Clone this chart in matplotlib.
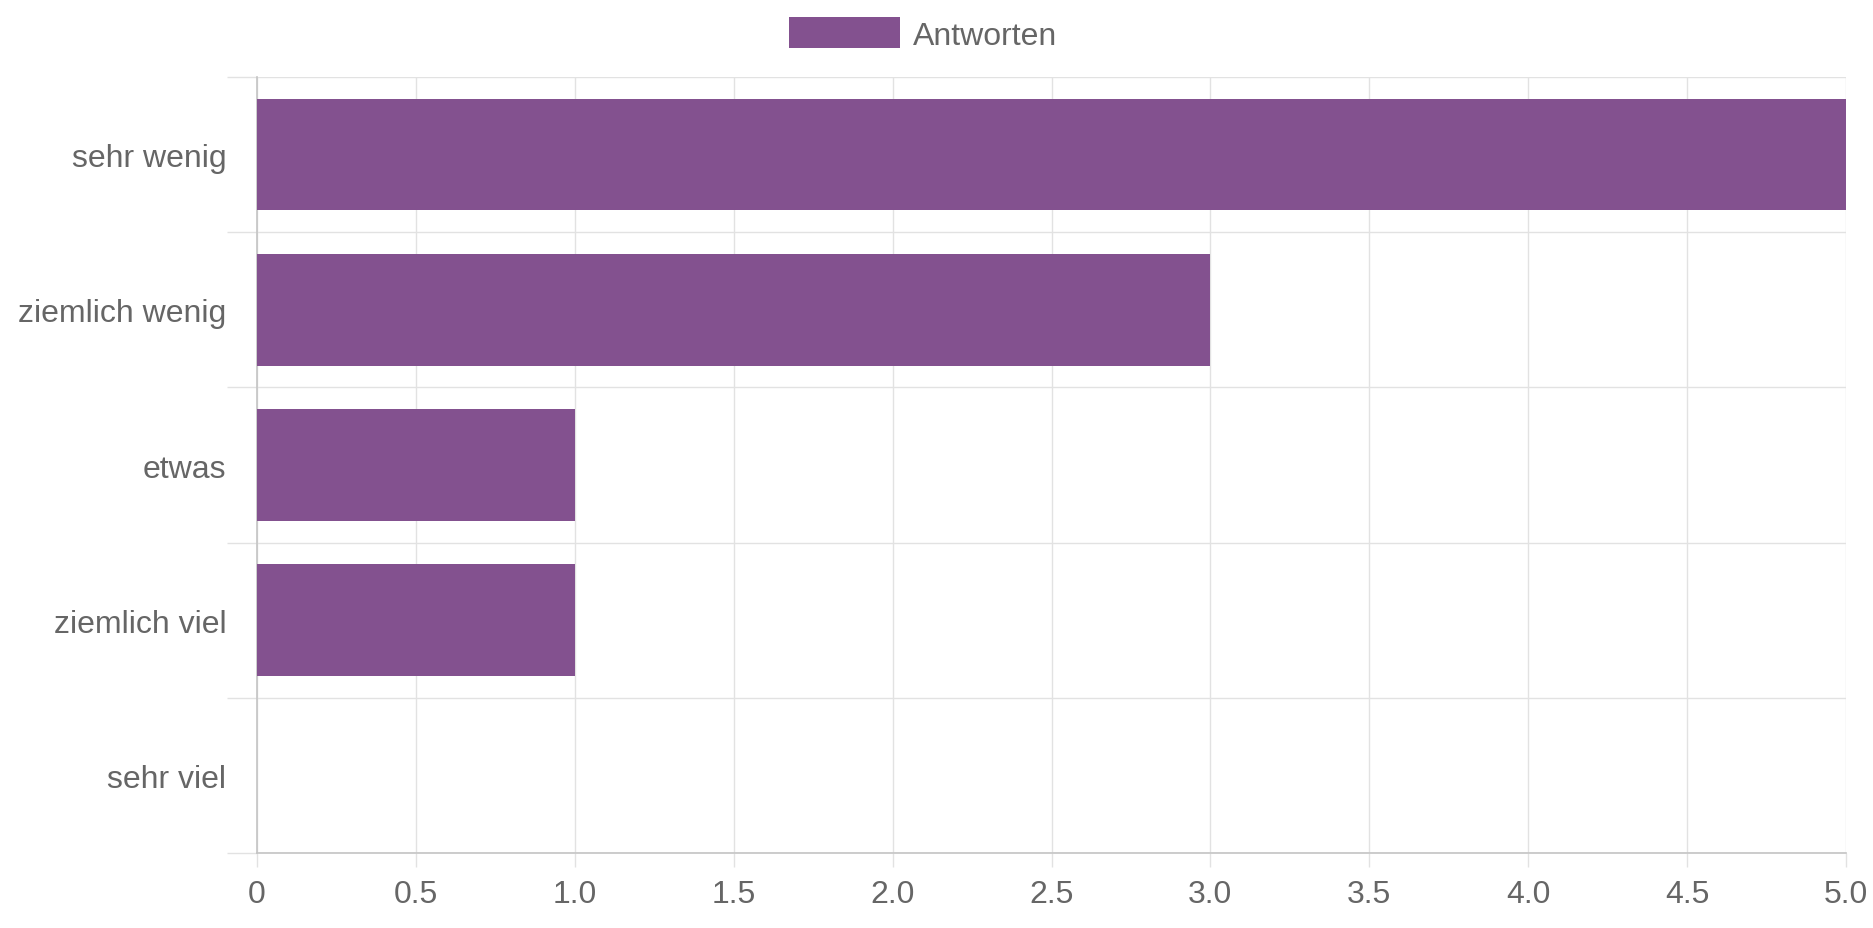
import matplotlib
matplotlib.use("Agg")
import matplotlib.pyplot as plt
from matplotlib.ticker import FixedLocator

# ── data ────────────────────────────────────────────────────────────────
categories = ["sehr wenig", "ziemlich wenig", "etwas", "ziemlich viel", "sehr viel"]
antworten = [5, 3, 1, 1, 0]
x_ticks = [0, 0.5, 1.0, 1.5, 2.0, 2.5, 3.0, 3.5, 4.0, 4.5, 5.0]
x_tick_labels = ["0", "0.5", "1.0", "1.5", "2.0", "2.5", "3.0", "3.5", "4.0", "4.5", "5.0"]
series_label = "Antworten"

BAR_COLOR = "#83518f"
GRID_COLOR = "#e2e2e2"
AXIS_COLOR = "#c4c4c4"
TEXT_COLOR = "#666666"
FONT_SIZE = 23
# ────────────────────────────────────────────────────────────────────────

plt.rcParams["font.family"] = ["Liberation Sans", "DejaVu Sans"]

fig = plt.figure(figsize=(18.73, 9.29), dpi=100)
ax = fig.add_axes([257 / 1873, 1 - 854 / 929, (1846 - 257) / 1873, (854 - 78) / 929])

ypos = list(range(len(categories)))
ax.barh(ypos, antworten, height=0.72, color=BAR_COLOR, label=series_label, zorder=3)

ax.set_xlim(0, 5)
ax.set_ylim(len(categories) - 0.5, -0.5)

# x axis: gridlines on ticks
ax.xaxis.set_major_locator(FixedLocator(x_ticks))
ax.set_xticklabels(x_tick_labels)
ax.tick_params(axis="x", which="major", length=10, width=1, color=GRID_COLOR,
               pad=9, labelsize=FONT_SIZE, labelcolor=TEXT_COLOR)
ax.grid(True, axis="x", which="major", color=GRID_COLOR, linewidth=1, zorder=0)

# y axis: labels at centres, gridlines between categories
ax.set_yticks(ypos)
ax.set_yticklabels(categories)
ax.yaxis.set_minor_locator(FixedLocator([i - 0.5 for i in range(len(categories) + 1)]))
ax.tick_params(axis="y", which="major", length=0, pad=22,
               labelsize=FONT_SIZE, labelcolor=TEXT_COLOR)
ax.tick_params(axis="y", which="minor", length=21.5, width=1, color=GRID_COLOR)
ax.grid(True, axis="y", which="minor", color=GRID_COLOR, linewidth=1, zorder=0)

for side in ("top", "right"):
    ax.spines[side].set_visible(False)
for side in ("left", "bottom"):
    ax.spines[side].set_color(AXIS_COLOR)
    ax.spines[side].set_linewidth(1.2)

fig.legend(loc="center", bbox_to_anchor=(923 / 1873, 1 - 35 / 929),
           frameon=False, fontsize=FONT_SIZE, labelcolor=TEXT_COLOR,
           handlelength=3.5, handleheight=1.12, handletextpad=0.4,
           borderpad=0, borderaxespad=0)

fig.savefig("out.png", dpi=100, facecolor="white")
